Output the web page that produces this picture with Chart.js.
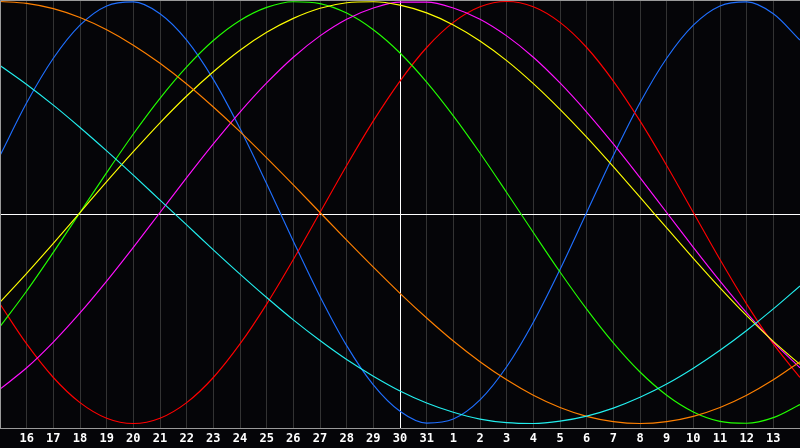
<!DOCTYPE html>
<html><head><meta charset="utf-8">
<script src="https://cdn.jsdelivr.net/npm/chart.js@4"></script>
<style>html,body{margin:0;padding:0;background:#050508;}canvas{display:block;}</style>
</head><body>
<canvas id="c" width="800" height="448"></canvas>
<script>
// Day labels (index 0 and last are edge days, not labelled)
const dayLabels = ['15','16','17','18','19','20','21','22','23','24','25','26','27','28','29','30','31','1','2','3','4','5','6','7','8','9','10','11','12','13','14'];
const todayLabel = '30';
const referenceLevel = -0.008;

// Series values, one per day
const physical     = [0.270,0.520,0.731,0.888,0.979,0.998,0.942,0.817,0.631,0.398,0.136,-0.136,-0.398,-0.631,-0.817,-0.942,-0.998,-0.979,-0.888,-0.731,-0.520,-0.270,0.000,0.270,0.520,0.731,0.888,0.979,0.998,0.942,0.817];
const emotional    = [-0.434,-0.623,-0.782,-0.901,-0.975,-1.000,-0.975,-0.901,-0.782,-0.623,-0.434,-0.223,0.000,0.223,0.434,0.623,0.782,0.901,0.975,1.000,0.975,0.901,0.782,0.623,0.434,0.223,0.000,-0.223,-0.434,-0.623,-0.782];
const intellectual = [-0.541,-0.372,-0.189,0.000,0.189,0.372,0.541,0.690,0.815,0.910,0.972,0.999,0.990,0.945,0.866,0.756,0.618,0.458,0.282,0.095,-0.095,-0.282,-0.458,-0.618,-0.756,-0.866,-0.945,-0.990,-0.999,-0.972,-0.910];
const intuitive    = [-0.837,-0.736,-0.614,-0.476,-0.325,-0.165,0.000,0.165,0.325,0.476,0.614,0.736,0.837,0.916,0.969,0.997,0.997,0.969,0.916,0.837,0.736,0.614,0.476,0.325,0.165,0.000,-0.165,-0.325,-0.476,-0.614,-0.736];
const aesthetic    = [-0.425,-0.288,-0.146,0.000,0.146,0.288,0.425,0.552,0.667,0.769,0.854,0.920,0.968,0.994,0.999,0.983,0.946,0.889,0.813,0.720,0.611,0.489,0.357,0.217,0.073,-0.073,-0.217,-0.357,-0.489,-0.611,-0.720];
const awareness    = [1.000,0.991,0.966,0.924,0.866,0.793,0.707,0.609,0.500,0.383,0.259,0.131,0.000,-0.131,-0.259,-0.383,-0.500,-0.609,-0.707,-0.793,-0.866,-0.924,-0.966,-0.991,-1.000,-0.991,-0.966,-0.924,-0.866,-0.793,-0.707];
const spiritual    = [0.697,0.607,0.509,0.403,0.292,0.177,0.059,-0.059,-0.177,-0.292,-0.403,-0.509,-0.607,-0.697,-0.776,-0.846,-0.903,-0.947,-0.979,-0.996,-1.000,-0.989,-0.965,-0.927,-0.876,-0.813,-0.738,-0.653,-0.559,-0.457,-0.348];

const seriesList = [
  {name:'Spiritual', data:spiritual, color:'#22eeee'},
  {name:'Awareness', data:awareness, color:'#ff8000'},
  {name:'Aesthetic', data:aesthetic, color:'#ffff00'},
  {name:'Intuitive', data:intuitive, color:'#ff10ff'},
  {name:'Intellectual', data:intellectual, color:'#22ff00'},
  {name:'Emotional', data:emotional, color:'#ff0000'},
  {name:'Physical', data:physical, color:'#1f6fff'}
];

const frame = {
  id:'frame',
  beforeDraw(chart){
    const c = chart.ctx; c.save(); c.fillStyle='#050508'; c.fillRect(0,0,chart.width,chart.height); c.restore();
  },
  beforeDatasetsDraw(chart){
    const {ctx, chartArea:a, scales:{x,y}} = chart;
    ctx.save(); ctx.strokeStyle='#ffffff'; ctx.lineWidth=1;
    const py = Math.floor(y.getPixelForValue(referenceLevel)) + 0.5;
    const px = Math.round(x.getPixelForValue(dayLabels.indexOf(todayLabel))) + 0.5;
    ctx.beginPath();
    ctx.moveTo(a.left, py); ctx.lineTo(a.right, py);
    ctx.moveTo(px, a.top); ctx.lineTo(px, a.bottom);
    ctx.stroke(); ctx.restore();
  },
  afterDatasetsDraw(chart){
    const {ctx, chartArea:a} = chart;
    ctx.save(); ctx.strokeStyle='#9a9a9a'; ctx.lineWidth=1;
    ctx.beginPath();
    ctx.moveTo(a.left+0.5, a.bottom); ctx.lineTo(a.left+0.5, a.top+0.5); ctx.lineTo(a.right, a.top+0.5);
    ctx.stroke(); ctx.restore();
  }
};

new Chart(document.getElementById('c'), {
  type:'line',
  data:{
    labels: dayLabels,
    datasets: seriesList.map(s => ({label:s.name, data:s.data, borderColor:s.color, backgroundColor:s.color, fill:false}))
  },
  options:{
    responsive:false, animation:false, devicePixelRatio:1,
    layout:{padding:0, autoPadding:false},
    plugins:{legend:{display:false}, tooltip:{enabled:false}},
    elements:{point:{radius:0, hoverRadius:0}, line:{borderWidth:1.15, cubicInterpolationMode:'monotone'}},
    scales:{
      x:{
        type:'category', offset:false,
        grid:{color:'#333333', drawTicks:false, lineWidth:1},
        border:{color:'#9a9a9a', width:1},
        ticks:{color:'#ffffff', font:{family:'DejaVu Sans Mono', size:12, weight:'bold'}, padding:4, autoSkip:false, maxRotation:0, minRotation:0,
          callback:(v,i) => (i===0 || i===dayLabels.length-1) ? '' : dayLabels[i]},
        afterFit: s => { s.height = 20; s.paddingLeft = 0; s.paddingRight = 0; }
      },
      y:{display:false, min:-1.0213, max:1.0071}
    }
  },
  plugins:[frame]
});
</script>
</body></html>
